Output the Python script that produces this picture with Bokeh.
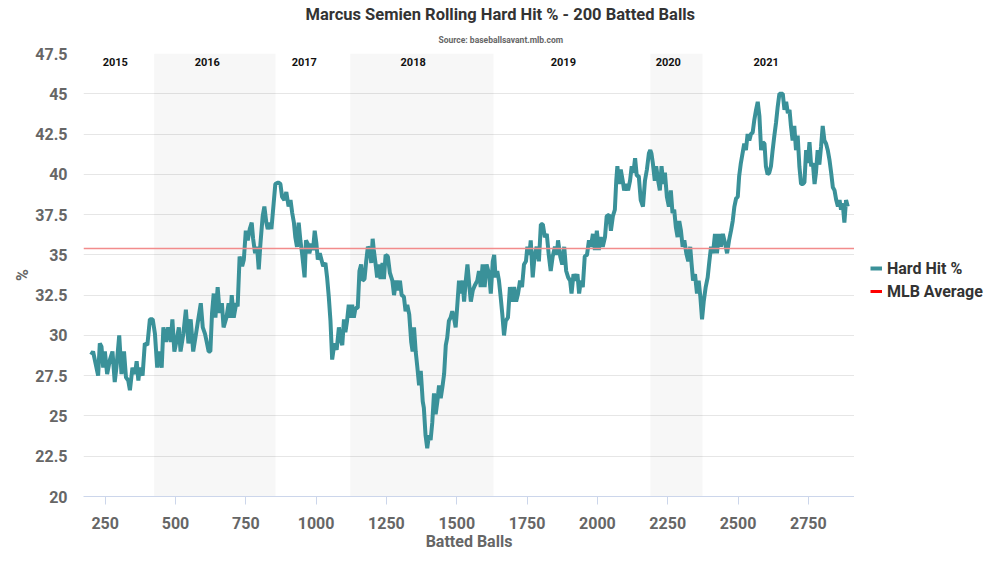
from bokeh.plotting import figure
from bokeh.layouts import row
from bokeh.models import Range1d, FixedTicker, BoxAnnotation, Span, Legend, LegendItem, Title
from bokeh.core.properties import value
from bokeh.embed import file_html
from bokeh.resources import INLINE

FONT = "Roboto"

# rolling hard hit %
hh_x = [200, 207, 219, 225, 231, 237, 243, 249, 257, 267, 276, 284, 290, 300, 308, 317, 324, 332, 338, 347,
        356, 362, 368, 373, 383, 391, 400, 409, 419, 427, 435, 442, 451, 457, 466, 474, 483, 489, 496, 504,
        512, 518, 528, 537, 546, 554, 563, 573, 581, 590, 597, 605, 611, 618,
        624, 630, 636, 642, 650, 657, 665, 671, 681, 689, 695, 700, 707, 716, 721, 728, 737, 743, 750, 757,
        764, 771, 776, 783, 790, 796, 802, 810, 816, 823, 828, 835, 841, 849, 855, 865, 873, 879, 887, 894,
        902, 909, 915, 921, 926, 932, 938, 944, 950, 959, 964, 970, 976, 984, 989, 995, 1001, 1006, 1013, 1019,
        1025, 1033, 1039, 1045, 1051, 1057, 1065, 1073, 1081,
        1087, 1093, 1099, 1104, 1110, 1116, 1122, 1128, 1134, 1140, 1148, 1154, 1160, 1165, 1172, 1178, 1184,
        1191, 1196, 1201, 1205, 1211, 1217, 1223, 1229, 1236, 1241, 1247, 1255, 1262, 1271, 1277, 1284, 1291,
        1298, 1304, 1312, 1318, 1324, 1331, 1338, 1343, 1348, 1354, 1360, 1366, 1372, 1379, 1383, 1389, 1395,
        1401, 1407, 1413, 1419, 1425, 1431, 1437, 1443, 1449, 1455, 1461, 1466, 1472, 1478, 1484, 1490, 1496,
        1502, 1508, 1514, 1521, 1526, 1532, 1538, 1544, 1550, 1557, 1564, 1573,
        1579, 1585, 1592, 1599, 1606, 1615, 1621, 1628, 1633, 1638, 1644, 1650, 1656, 1662, 1668, 1674, 1682,
        1689, 1697, 1704, 1711, 1718, 1725, 1732, 1739, 1746, 1751, 1758, 1763, 1770, 1777, 1784, 1792, 1799,
        1806, 1813, 1820, 1827, 1834, 1841, 1849, 1856, 1860, 1868, 1875, 1882, 1889, 1896, 1903, 1908, 1915,
        1922, 1929, 1935, 1941, 1948, 1955, 1963, 1970, 1977, 1984, 1991, 1998, 2005, 2012, 2019, 2027,
        2033, 2042, 2048, 2055, 2062, 2067, 2071, 2077, 2083, 2090, 2095, 2102, 2109, 2116, 2122, 2128, 2134,
        2140, 2147, 2154, 2162, 2169, 2176, 2183, 2188, 2192, 2197, 2204, 2209, 2216, 2222, 2228, 2234, 2240,
        2247, 2254, 2261, 2267, 2273, 2279, 2285, 2291, 2297, 2303, 2309, 2316, 2323, 2330, 2335, 2340, 2347,
        2354, 2360, 2366, 2372, 2378, 2385, 2392, 2398, 2404, 2411, 2418, 2425, 2432, 2439, 2446, 2454, 2461,
        2468, 2475, 2481,
        2487, 2493, 2499, 2504, 2510, 2516, 2522, 2528, 2534, 2540, 2546, 2552, 2558, 2564, 2570, 2576, 2582,
        2588, 2594, 2599, 2605, 2611, 2617, 2623, 2629, 2635, 2641, 2647, 2653, 2659, 2665, 2671, 2677, 2683,
        2688, 2694, 2700, 2706, 2712, 2718, 2724, 2730, 2736, 2742, 2748, 2754, 2760, 2766, 2772, 2777, 2783,
        2789, 2795, 2801, 2807, 2813, 2819, 2825, 2831, 2837, 2843, 2849, 2855, 2861, 2866, 2872, 2878, 2884,
        2890]
hh_y = [28.8, 29, 28, 27.5, 29.5, 29.3, 28, 29, 27.6, 28.5, 29, 27.1, 28, 30, 27.6, 29, 27.4, 27.2, 26.6, 28,
        27.6, 28.4, 27.2, 28, 27.5, 29.5, 29.4, 31, 31, 30.1, 28, 29, 28, 30.5, 29.6, 30.5, 29.6, 31, 29, 29.7,
        30.5, 29, 30.1, 31.6, 29.5, 31, 29, 30.1, 31, 32, 30.5, 30.1, 29.6, 29,
        29, 31.4, 32.6, 31.1, 33, 31.4, 32, 30.5, 31.1, 32, 31.1, 32.5, 31.1, 32, 31.8, 34.9, 34.3, 34.7, 36.5, 35.9,
        36.6, 37, 36, 35.1, 35.5, 34.1, 35.7, 37.4, 38, 37, 36.6, 37, 36.6, 38.2, 39.4, 39.5, 39.4, 38.6, 38.4, 38.9,
        38, 38.4, 37.6, 37, 36.1, 35.5, 37, 35.9, 35.1, 33.6, 35.9, 35.7, 35.1, 35.7, 35.3, 36.5, 35.7, 34.7, 35.1, 34.7,
        34.3, 34.5, 33.6, 32.4, 30.9, 28.5, 29.5, 29.1, 30.5,
        29.75, 29.4, 31, 30.2, 30.9, 31.9, 31.1, 31.9, 31.1, 31.7, 31.7, 34, 34.4, 33.4, 33.5, 34.6, 35.5,
        35.3, 34.5, 36, 35.3, 34.5, 33.6, 34.4, 33.5, 34.5, 33.5, 35, 34.9, 33.9, 33.4, 32.5, 33.4, 32.8,
        33.4, 32.5, 32.4, 31.5, 31.9, 31.3, 29.6, 29, 30.5, 29, 28, 26.9, 27.8, 25.9, 25.5, 23.8, 23,
        23.8, 23.5, 24.6, 26.4, 25.1, 25.9, 26.9, 26.1, 26.8, 27.6, 29.4, 29.85, 30.9, 31.1, 31.5, 31.1, 30.5,
        31.9, 33.4, 32.6, 33.4, 32.1, 33.4, 34.4, 33.2, 32.1, 32.8, 33.1, 33.4,
        34, 33, 34.4, 33, 34.4, 33.8, 32.6, 34.6, 35, 33.6, 34, 33.4, 32.4, 31.3, 30, 30.9, 31.1,
        33, 32.1, 33, 32.1, 32.6, 33.4, 33, 34.4, 34.6, 35.5, 35, 35.9, 33.6, 35, 35.5, 34.6, 36.9,
        36.9, 36.1, 36.3, 35, 34, 34.9, 35.5, 35, 35.9, 34.9, 34.4, 35.5, 34, 33.6, 33.4, 32.6, 33.8,
        33.4, 33.8, 32.6, 33.4, 33, 34.9, 35, 35.9, 35.5, 36.3, 35.3, 36.5, 35.3, 36.1, 35.5, 36.1,
        37.4, 37.5, 36.5, 37.4, 37.8, 39.6, 40.5, 39.4, 40.3, 39.6, 39, 39.4, 39, 39.6, 40.5, 40.1, 41,
        39.9, 39.9, 38.4, 38, 39.6, 40.3, 41.3, 41.5, 41.3, 40.7, 39.6, 40.5, 39.6, 39, 40.5, 39.4, 40.1,
        38.6, 38, 39, 37.6, 37.8, 36.7, 36.1, 37.1, 36.5, 35.5, 35.9, 35.1, 34.6, 35.5, 34.4, 33.4, 33.8,
        32.6, 33.4, 32.4, 31, 32.1, 33, 33.6, 34.6, 35.5, 35.1, 36.3, 35.1, 36.3, 35.5, 36.3, 35.7, 35.1,
        35.9, 36.5, 37.1,
        38, 38.5, 38.6, 39.9, 40.7, 41.3, 41.9, 41.5, 42.5, 42.1, 42.5, 42.6, 43.4, 44, 44.5, 43.6, 41.5,
        42, 41.9, 40.5, 40, 40.1, 40.5, 41.5, 42.4, 43.2, 44.2, 45, 45, 45, 44, 44.5, 43.8, 44,
        43, 42.1, 43, 41.5, 42.4, 40.5, 39.4, 39.4, 39.5, 41.5, 40.7, 42, 40.5, 40.7, 39.4, 40.1, 41.5,
        40.6, 41.7, 43, 42.1, 41.9, 41.5, 40.9, 40.1, 39.2, 39, 38.4, 38, 38.4, 37.8, 38.2, 37, 38.4,
        38]

mlb_avg = 35.4

# seasons (shaded ones alternate)
years = ["2015", "2016", "2017", "2018", "2019", "2020", "2021"]
year_mid = [286, 613, 958, 1345, 1879, 2252, 2600]
shaded_seasons = [(424, 856), (1121, 1631), (2188, 2374)]

x_ticks = [250, 500, 750, 1000, 1250, 1500, 1750, 2000, 2250, 2500, 2750]
y_ticks = [20, 22.5, 25, 27.5, 30, 32.5, 35, 37.5, 40, 42.5, 45, 47.5]

TEAL = "#3a9199"

p = figure(width=854, height=555, x_range=Range1d(173, 2914), y_range=Range1d(20, 47.5),
           output_backend="svg", toolbar_location=None,
           min_border_left=83, min_border_right=0, min_border_top=53, min_border_bottom=59)
p.outline_line_color = None

# titles are centred on the page, not on the plot frame
p.add_layout(Title(text="Source: baseballsavant.mlb.com", align="left", offset=355,
                   text_font=FONT, text_font_size="8.5px", text_font_style="bold",
                   text_color="#666666", standoff=18), "above")
p.add_layout(Title(text="Marcus Semien Rolling Hard Hit % - 200 Batted Balls", align="left", offset=222,
                   text_font=FONT, text_font_size="16.5px", text_font_style="bold",
                   text_color="#333333", standoff=0), "above")

for start, end in shaded_seasons:
    p.add_layout(BoxAnnotation(left=start, right=end, fill_color="#000000", fill_alpha=0.03,
                               line_color=None, level="underlay"))

p.xgrid.visible = False
p.ygrid.grid_line_color = "#e6e6e6"

p.xaxis.ticker = FixedTicker(ticks=x_ticks)
p.yaxis.ticker = FixedTicker(ticks=y_ticks)
p.yaxis.major_label_overrides = {t: f"{t:g}" for t in y_ticks}

for ax in (p.xaxis[0], p.yaxis[0]):
    ax.major_label_text_font = FONT
    ax.major_label_text_font_size = "16px"
    ax.major_label_text_font_style = "bold"
    ax.major_label_text_color = "#666666"
    ax.axis_label_text_font = FONT
    ax.axis_label_text_font_size = "16px"
    ax.axis_label_text_font_style = "bold"
    ax.axis_label_text_color = "#666666"
    ax.minor_tick_line_color = None

p.xaxis.axis_label = "Batted Balls"
p.xaxis.axis_line_color = "#ccd6eb"
p.xaxis.major_tick_line_color = "#ccd6eb"
p.xaxis.major_tick_in = 0
p.xaxis.major_tick_out = 8
p.xaxis.major_label_standoff = 12
p.xaxis.axis_label_standoff = 0

p.yaxis.axis_label = "%"
p.yaxis.axis_line_color = None
p.yaxis.major_tick_line_color = None
p.yaxis.major_label_standoff = 10
p.yaxis.axis_label_standoff = 0

p.text(x=year_mid, y=[46.95] * len(years), text=years, text_font=value(FONT),
       text_font_size="11px", text_font_style="bold", text_color="#111111",
       text_align="center", text_baseline="middle")

p.add_layout(Span(location=mlb_avg, dimension="width", line_color="#f28c8c", line_width=1.5))
p.line(hh_x, hh_y, line_color=TEAL, line_width=4)

# legend lives in its own narrow panel to the right of the chart
lg = figure(width=130, height=555, x_range=Range1d(0, 1), y_range=Range1d(0, 1),
            output_backend="svg", toolbar_location=None,
            min_border_left=0, min_border_right=0, min_border_top=0, min_border_bottom=0)
lg.axis.visible = False
lg.grid.visible = False
lg.outline_line_color = None
hh_key = lg.line(hh_x, hh_y, line_color=TEAL, line_width=4)
avg_key = lg.line([hh_x[0], hh_x[-1]], [mlb_avg, mlb_avg], line_color="#ff0000", line_width=3)

legend = Legend(items=[LegendItem(label="Hard Hit %", renderers=[hh_key]),
                       LegendItem(label="MLB Average", renderers=[avg_key])],
                location=(16, 195), padding=0, margin=0, spacing=3,
                glyph_width=12, glyph_height=20, label_height=20, label_standoff=5,
                border_line_color=None, background_fill_alpha=0,
                label_text_font=FONT, label_text_font_size="16px",
                label_text_font_style="bold", label_text_color="#333333")
lg.add_layout(legend)

layout = row(p, lg)
open("out.html", "w").write(file_html(layout, INLINE))
